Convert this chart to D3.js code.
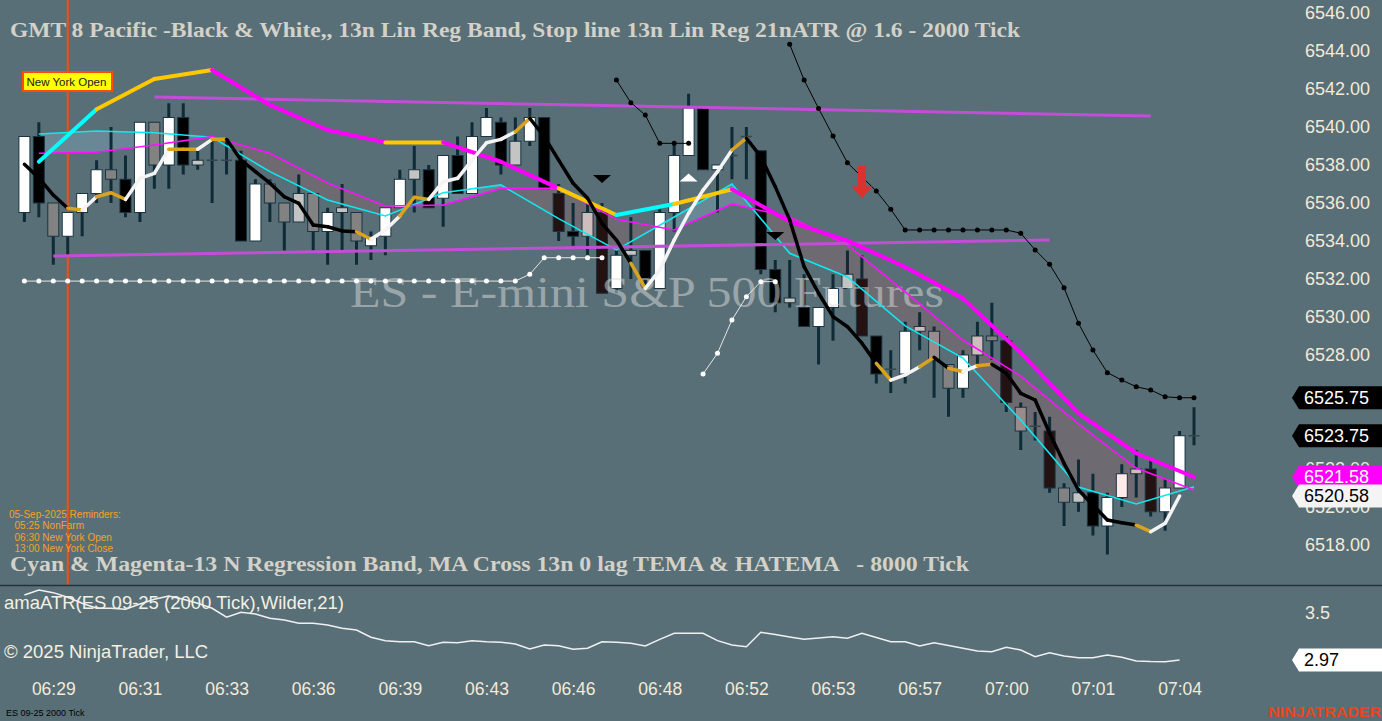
<!DOCTYPE html>
<html>
<head>
<meta charset="utf-8">
<title>ES 09-25 2000 Tick</title>
<script src="https://cdn.jsdelivr.net/npm/d3@7"></script>
<style>
  body { margin: 0; background: #586f77; overflow: hidden; }
  text { font-family: "Liberation Sans", Arial, sans-serif; }
</style>
</head>
<body>
<script>
// ---- data (2000 tick bars, index 0..81) ----
var opens  = [6535.5,6539.5,6536,6534.25,6535.5,6536.5,6537.75,6537.25,6535.5,6540.25,
              6538,6540.5,6538.25,6538.25,6538.25,6538.25,6534,6537,6536,6535,
              6536.5,6534.5,6535.75,6535.5,6533.75,6534.25,6535.75,6537.25,6537.75,6536.25,
              6538.5,6536.5,6539.5,6540.25,6538,6539.25,6540.5,6536.5,6534.5,6534.25,
              6535.5,6531.5,6533.5,6533.5,6531.5,6535.5,6538.5,6541,6537.75,6538.5,
              6539.5,6538.75,6532.5,6531,6530.5,6529.5,6530.5,6531.5,6532,6529,
              6527.25,6527,6529.25,6529.25,6527.5,6526.25,6528,6529,6528.75,6525.25,
              6524.25,6524,6521,6520.25,6520.75,6519,6520.5,6521.75,6522,6519.75,
              6521,6523.75];
var highs  = [6539.5,6540.25,6536,6535.5,6536.5,6538.25,6540,6538.5,6540.25,6540.25,
              6541.25,6541.25,6538.75,6539.25,6539.25,6538.75,6537.25,6537.25,6536,6537.5,
              6536.5,6535.75,6537,6535.5,6534.5,6535.75,6537.75,6539,6538,6538.5,
              6539.5,6540.25,6541,6540.5,6540.5,6541,6540.5,6537,6536,6536,
              6536,6533.5,6535.25,6533.5,6535.75,6539.25,6541.75,6541,6538,6540,
              6540,6538.75,6533,6533,6532.25,6530.5,6532.25,6533.5,6533.25,6529,
              6528.25,6529.75,6530.25,6529.5,6527.5,6528.25,6529.75,6530.75,6529,6525.5,
              6525,6524.75,6521.25,6522.5,6521.75,6520.75,6522.25,6523,6522.5,6521.5,
              6524,6525.25];
var lows   = [6535,6535.25,6532.75,6533.25,6534.25,6536,6536,6535.25,6535,6536.75,
              6536.75,6537.5,6537.75,6536,6537.5,6534,6534,6535,6533.5,6535,
              6533.5,6532.75,6533.5,6532.75,6533,6533.25,6535.75,6535.5,6535.75,6534.75,
              6536.5,6536.5,6539.5,6537.5,6538,6539,6536.75,6534,6533.75,6533.25,
              6531.25,6531.25,6532,6531.5,6531.5,6534.5,6538.5,6537.75,6535.5,6537.25,
              6537.25,6532.25,6530.25,6530.5,6529.5,6527.5,6528.75,6531.5,6529,6526.5,
              6526,6526.5,6528.25,6525.75,6524.75,6525.75,6527.5,6527.75,6525,6523,
              6523.5,6520.75,6519,6519.75,6518.5,6517.5,6520,6520.5,6519.5,6518.75,
              6521,6523.25];
var closes = [6539.5,6536,6534.25,6535.5,6536.5,6537.75,6537.25,6535.5,6540.25,6538,
              6540.5,6538,6538,6538.25,6538.25,6534,6537,6536,6535,6536.5,
              6534.5,6535.5,6535.5,6534,6534.25,6535.75,6537.25,6537.75,6535.75,6538.5,
              6536.5,6539.5,6540.5,6538,6539.25,6540.5,6536.75,6534.5,6534.25,6535.5,
              6531.25,6533.25,6533.25,6532,6535.5,6538.5,6541,6537.75,6538,6538.5,
              6539.5,6532.5,6530.75,6530.75,6529.5,6530.5,6531.5,6532.25,6529,6527,
              6527.25,6529.25,6529.5,6527.75,6526.25,6528,6529,6528.75,6525.5,6524,
              6524.25,6521,6520.25,6520.75,6519,6520.5,6521.75,6522,6519.75,6521,
              6523.75,6523.75];
// bar colouring state from the painter indicator
var barState = ["up","down","weak","up","up","up","weak","down","up","weak",
                "up","down","light","flat","flat","down","up","weak","weak","light",
                "weak","up","light","weak","up","up","up","light","down","up",
                "down","up","up","down","light","up","down","ember","down","rose",
                "ember","up","light","down","up","up","up","down","up","flat",
                "flat","down","down","light","down","up","up","light","ember","down",
                "flat","up","rose","dusk","weak","up","rose","weak","ember","dusk",
                "flat","ember","weak","light","down","up","blush","rose","ember","up",
                "up","flat"];

// 13n 0 lag TEMA (bars 0..80) and its slope state
var tema = [6538.04,6537.32,6536.42,6535.72,6535.63,6536.33,6536.54,6536.19,6537.30,6537.56,
            6538.83,6538.83,6538.83,6539.35,6539.35,6538.26,6537.65,6537.04,6536.33,6535.98,
            6534.84,6534.75,6534.53,6534.49,6534.09,6534.58,6535.32,6536.30,6536.19,6537.12,
            6537.30,6538.26,6539.17,6539.35,6539.75,6540.46,6539.49,6538.26,6537.04,6536.25,
            6534.93,6534.05,6532.83,6531.51,6532.47,6534.05,6535.46,6536.68,6537.65,6538.79,
            6539.41,6538.44,6536.86,6535.11,6532.65,6531.25,6530.02,6529.49,6528.62,6527.56,
            6526.68,6526.95,6527.38,6527.88,6527.30,6527.12,6527.44,6527.51,6527.04,6525.98,
            6525.63,6523.88,6522.30,6520.89,6520.11,6519.32,6519.17,6519.05,6518.70,6519.14,
            6520.58];
var temaState = ("ddddfuffuu" + "uffufddddd" + "ddddfuuffu" + "uuuuufdddd" +
                 "dddfuuuuuu" + "fddddddddd" + "fuufdfufdd" + "ddddddddfuu").split("");

// 8000 tick series, one value every 4th 2000 tick bar
var htfBars = [1,5,9,13,17,21,25,29,33,37,41,45,49,53,57,61,65,69,73,77,81];
var htfMA = [6538.17,6540.93,6542.53,6543.00,6541.16,6539.84,6539.19,6539.19,6538.17,6536.77,
             6535.37,6535.95,6536.72,6535.02,6534.02,6532.63,6530.98,6528.11,6524.93,6522.83,
             6521.58];
var htfState = ["u","u","f","f","d","d","d","f","d","d","f","u","f","d","d","d","d","d","d","d","d"];
var bandCyan = [6539.63,6539.79,6539.70,6539.46,6537.65,6536.16,6535.32,6536.54,6536.95,6535.18,
                6533.53,6535.26,6537.00,6533.35,6532.11,6529.53,6527.84,6524.58,6521.05,6520.16,
                6521.07];
var bandMagenta = [6538.62,6538.67,6539.05,6539.49,6538.62,6537.05,6535.84,6535.89,6536.77,6536.77,
                   6535.14,6534.58,6535.95,6535.26,6533.79,6531.32,6528.79,6526.89,6524.37,6522.05,
                   6520.89];

// ATR based stop line, L = long (below price), S = short (above price)
var stopLine = [6531.89,6531.89,6531.89,6531.89,6531.89,6531.89,6531.89,6531.89,6531.89,6531.89,
                6531.89,6531.89,6531.89,6531.89,6531.89,6531.89,6531.89,6531.89,6531.89,6531.89,
                6531.89,6531.89,6531.89,6531.89,6531.89,6531.89,6531.89,6531.89,6531.89,6531.89,
                6531.89,6531.89,6531.89,6531.89,6531.89,6532.25,6533.12,6533.12,6533.12,6533.12,
                6533.12,6542.47,6541.28,6540.63,6539.14,6539.14,6539.14,6527.00,6528.09,6529.84,
                6531.07,6531.86,6531.86,6544.35,6542.47,6540.98,6539.53,6538.12,6537.37,6536.63,
                6535.67,6534.58,6534.58,6534.58,6534.58,6534.58,6534.58,6534.58,6534.58,6534.41,
                6533.53,6532.77,6531.54,6529.67,6528.26,6527.07,6526.68,6526.33,6526.16,6525.80,
                6525.75,6525.75];
var stopSide = ("LLLLLLLLLLLLLLLLLLLLLLLLLLLLLLLLLLLLLLLLL" + "SSSSSS" + "LLLLLL" +
                "SSSSSSSSSSSSSSSSSSSSSSSSSSSSS").split("");

// amaATR(Wilder,21), bars 0..80
var atr = [3.703,3.759,3.729,3.677,3.609,3.553,3.553,3.542,3.601,3.654,
           3.692,3.654,3.609,3.553,3.452,3.508,3.489,3.440,3.421,3.384,
           3.384,3.365,3.327,3.308,3.226,3.188,3.176,3.176,3.131,3.170,
           3.165,3.188,3.176,3.170,3.150,3.094,3.139,3.131,3.091,3.102,
           3.176,3.170,3.158,3.128,3.203,3.271,3.271,3.271,3.188,3.139,
           3.120,3.282,3.258,3.229,3.203,3.218,3.233,3.215,3.271,3.224,
           3.176,3.176,3.128,3.165,3.134,3.102,3.071,3.064,3.113,3.083,
           3.007,3.052,3.015,2.996,2.996,3.026,3.000,2.959,2.953,2.951,
           2.970];

// hand drawn regression channel lines (bar, price)
var channelLines = [
  {b0: 9, p0: 6541.58, b1: 78, p1: 6540.58},
  {b0: 2, p0: 6533.21, b1: 71, p1: 6534.05}
];
var signals = [
  {bar: 40, price: 6537.26, kind: "sell"},
  {bar: 46, price: 6537.34, kind: "buy"},
  {bar: 52, price: 6534.26, kind: "sell"},
  {bar: 58, price: 6537.10, kind: "arrow"}
];
var nyOpenBar = 3;

var priceTicks = [6518,6520,6522,6524,6526,6528,6530,6532,6534,6536,6538,6540,6542,6544,6546];
var timeBars = [2,8,14,20,26,32,38,44,50,56,62,68,74,80];
var timeLabels = ["06:29","06:31","06:33","06:36","06:39","06:43","06:46","06:48",
                  "06:52","06:53","06:57","07:00","07:01","07:04"];
var atrTicks = [3.5];
var reminders = ["05-Sep-2025 Reminders:", "  05:25 NonFarm", "  06:30 New York Open", "  13:00 New York Close"];

// ---- layout ----
var width = 1382, height = 721;
var priceBottom = 585, plotRight = 1290;

var x = d3.scaleLinear().domain([0, 81]).range([24.4, 1194]);
var y = d3.scaleLinear().domain([6515.895, 6546.684]).range([priceBottom, 0]);
var atrY = d3.scaleLinear().domain([2.767, 3.804]).range([678, 586]);

var svg = d3.select("body").append("svg")
    .attr("width", width)
    .attr("height", height);

svg.append("rect").attr("width", width).attr("height", height).attr("fill", "#586f77");

var defs = svg.append("defs");
defs.append("clipPath").attr("id", "priceClip")
  .append("rect").attr("x", 0).attr("y", 0).attr("width", plotRight).attr("height", priceBottom);

var plot = svg.append("g").attr("clip-path", "url(#priceClip)");

// New York open marker line
plot.append("line")
    .attr("x1", x(nyOpenBar)).attr("x2", x(nyOpenBar))
    .attr("y1", 0).attr("y2", priceBottom)
    .attr("stroke", "#ff4a0a").attr("stroke-width", 2);

// regression band fill, blue where cyan is on top, grey where magenta is on top
var band = htfBars.map(function(b, i) { return {b: b, c: bandCyan[i], m: bandMagenta[i]}; });
defs.append("clipPath").attr("id", "cyanAbove").append("path")
    .attr("d", d3.area().x(function(d){return x(d.b);}).y0(0).y1(function(d){return y(d.m);})(band));
defs.append("clipPath").attr("id", "cyanBelow").append("path")
    .attr("d", d3.area().x(function(d){return x(d.b);}).y0(function(d){return y(d.m);}).y1(priceBottom)(band));
var bandArea = d3.area()
    .x(function(d){return x(d.b);})
    .y0(function(d){return y(d.c);})
    .y1(function(d){return y(d.m);});
plot.append("path").attr("d", bandArea(band)).attr("fill", "#6a8795").attr("clip-path", "url(#cyanAbove)");
plot.append("path").attr("d", bandArea(band)).attr("fill", "#6e6a71").attr("clip-path", "url(#cyanBelow)");

// candles
var shade = d3.scaleOrdinal()
    .domain(["up","down","weak","light","rose","dusk","blush","ember","flat"])
    .range(["#ffffff","#000000","#828282","#c4c4c4","#cfbcbc","#9c8b8d","#ffe9e9","#241212","#34474f"]);

var bars = d3.range(opens.length);
var candle = plot.selectAll("g.bar").data(bars).join("g").attr("class", "bar");
candle.append("line")
    .attr("x1", function(i){return x(i);}).attr("x2", function(i){return x(i);})
    .attr("y1", function(i){return y(highs[i]);}).attr("y2", function(i){return y(lows[i]);})
    .attr("stroke", "#0e2b37").attr("stroke-width", 3);
candle.filter(function(i){return opens[i] !== closes[i];}).append("rect")
    .attr("x", function(i){return x(i) - 5.5;})
    .attr("width", 11)
    .attr("y", function(i){return y(Math.max(opens[i], closes[i]));})
    .attr("height", function(i){return Math.abs(y(opens[i]) - y(closes[i]));})
    .attr("fill", function(i){return shade(barState[i]);})
    .attr("stroke", "#1a3440").attr("stroke-width", 1);
candle.filter(function(i){return opens[i] === closes[i];}).append("line")
    .attr("x1", function(i){return x(i) - 5.5;}).attr("x2", function(i){return x(i) + 5.5;})
    .attr("y1", function(i){return y(opens[i]);}).attr("y2", function(i){return y(opens[i]);})
    .attr("stroke", shade("flat")).attr("stroke-width", 1.5);

// watermark
plot.append("text")
    .attr("x", 350).attr("y", 307)
    .attr("textLength", 594).attr("lengthAdjust", "spacingAndGlyphs")
    .style("font-family", "'Liberation Serif', 'Times New Roman', serif")
    .style("font-size", "45px")
    .attr("fill", "#dcdcdc").attr("fill-opacity", 0.5)
    .text("ES - E-mini S&P 500 Futures");

// thin regression band lines
var nodeLine = d3.line().x(function(d){return x(d[0]);}).y(function(d){return y(d[1]);});
plot.append("path").attr("d", nodeLine(htfBars.map(function(b,i){return [b, bandCyan[i]];})))
    .attr("fill", "none").attr("stroke", "#10e8f0").attr("stroke-width", 1.6);
plot.append("path").attr("d", nodeLine(htfBars.map(function(b,i){return [b, bandMagenta[i]];})))
    .attr("fill", "none").attr("stroke", "#ff10ff").attr("stroke-width", 1.6);

// purple channel lines
plot.selectAll("line.channel").data(channelLines).join("line").attr("class", "channel")
    .attr("x1", function(d){return x(d.b0);}).attr("y1", function(d){return y(d.p0);})
    .attr("x2", function(d){return x(d.b1);}).attr("y2", function(d){return y(d.p1);})
    .attr("stroke", "#c24ed6").attr("stroke-width", 3);

// stop line: thin joins inside a run, then the dots
var stopPairs = d3.pairs(bars).filter(function(p){return stopSide[p[0]] === stopSide[p[1]];});
plot.selectAll("line.stopjoin").data(stopPairs).join("line").attr("class", "stopjoin")
    .attr("x1", function(p){return x(p[0]);}).attr("y1", function(p){return y(stopLine[p[0]]);})
    .attr("x2", function(p){return x(p[1]);}).attr("y2", function(p){return y(stopLine[p[1]]);})
    .attr("stroke", function(p){return stopSide[p[0]] === "L" ? "#e6e6e6" : "#000";})
    .attr("stroke-width", 1);
plot.selectAll("circle.stop").data(bars).join("circle").attr("class", "stop")
    .attr("cx", function(i){return x(i);}).attr("cy", function(i){return y(stopLine[i]);})
    .attr("r", 2.5)
    .attr("fill", function(i){return stopSide[i] === "L" ? "#ffffff" : "#000000";});

// 8000 tick MA cross line, coloured per segment
var htfColor = {u: "#00ffff", f: "#ffc800", d: "#ff00ff"};
var htfSegs = d3.pairs(htfBars.map(function(b,i){return [b, htfMA[i]];}))
    .map(function(p, k){return {pts: p, state: htfState[k + 1]};});
plot.selectAll("path.htf").data(htfSegs).join("path").attr("class", "htf")
    .attr("d", function(s){return nodeLine(s.pts);})
    .attr("fill", "none").attr("stroke", function(s){return htfColor[s.state];})
    .attr("stroke-width", 4).attr("stroke-linecap", "round");

// TEMA line
var temaColor = {d: "#000000", u: "#f4f4f4", f: "#d9a21f"};
var temaSegs = d3.pairs(tema.map(function(v,i){return [i, v];}))
    .map(function(p, k){return {pts: p, state: temaState[k + 1]};});
plot.selectAll("path.tema").data(temaSegs).join("path").attr("class", "tema")
    .attr("d", function(s){return nodeLine(s.pts);})
    .attr("fill", "none").attr("stroke", function(s){return temaColor[s.state];})
    .attr("stroke-width", 3.5).attr("stroke-linecap", "round");

// signal markers
plot.selectAll("path.signal").data(signals).join("path").attr("class", "signal")
    .attr("d", function(s){
      var cx = x(s.bar), cy = y(s.price);
      if (s.kind === "sell") return "M" + (cx-9) + "," + (cy-4) + "L" + (cx+9) + "," + (cy-4) + "L" + cx + "," + (cy+4) + "Z";
      if (s.kind === "buy") return "M" + (cx-9) + "," + (cy+4) + "L" + (cx+9) + "," + (cy+4) + "L" + cx + "," + (cy-4) + "Z";
      return "M" + (cx-4) + "," + (cy-16) + "H" + (cx+4) + "V" + (cy+4.5) + "H" + (cx+10.5) +
             "L" + cx + "," + (cy+16) + "L" + (cx-10.5) + "," + (cy+4.5) + "H" + (cx-4) + "Z";
    })
    .attr("fill", function(s){return s.kind === "buy" ? "#ffffff" : (s.kind === "arrow" ? "#e0302c" : "#000000");});

// chart texts
var serif = "'Liberation Serif', 'Times New Roman', serif";
svg.append("text").attr("x", 10).attr("y", 37)
    .attr("textLength", 1010).attr("lengthAdjust", "spacingAndGlyphs")
    .style("font-family", serif).style("font-size", "21px").style("font-weight", "bold")
    .attr("fill", "#d3d1c8")
    .text("GMT 8 Pacific -Black & White,, 13n Lin Reg Band, Stop line 13n Lin Reg 21nATR @ 1.6 - 2000 Tick");
svg.append("text").attr("x", 10).attr("y", 571)
    .attr("textLength", 959).attr("lengthAdjust", "spacingAndGlyphs")
    .style("font-family", serif).style("font-size", "21px").style("font-weight", "bold")
    .style("white-space", "pre")
    .attr("fill", "#d3d1c8")
    .text("Cyan & Magenta-13 N Regression Band, MA Cross 13n 0 lag TEMA & HATEMA   - 8000 Tick");

svg.selectAll("text.reminder").data(reminders).join("text").attr("class", "reminder")
    .attr("x", 9).attr("y", function(d, i){return 518 + i * 11.3;})
    .style("font-size", "10px").style("white-space", "pre")
    .attr("fill", "#f5a21e")
    .text(function(d){return d;});

// New York Open tag
svg.append("rect").attr("x", 23).attr("y", 72).attr("width", 89).attr("height", 19)
    .attr("fill", "#ffff00").attr("stroke", "#ff4a0a").attr("stroke-width", 2);
svg.append("text").attr("x", 26.5).attr("y", 86)
    .style("font-size", "11.5px").attr("fill", "#1a1a1a").text("New York Open");

// panel separator
svg.append("line").attr("x1", 0).attr("x2", width).attr("y1", 585.5).attr("y2", 585.5)
    .attr("stroke", "#22333a").attr("stroke-width", 1.5);

// value tags on the right axis
var fmt2 = d3.format(".2f");
var tags = [
  {v: stopLine[stopLine.length - 1], fill: "#000000", ink: "#ffffff"},
  {v: closes[closes.length - 1],     fill: "#000000", ink: "#ffffff"},
  {v: htfMA[htfMA.length - 1],       fill: "#ff00ff", ink: "#ffffff"},
  {v: tema[tema.length - 1],         fill: "#f4f4f4", ink: "#000000"}
];

// price axis, leaving out tick labels a tag hides completely
var cream = "#f3ead8";
var shownTicks = priceTicks.filter(function(t){
  return !tags.some(function(g){ return Math.abs(y(g.v) - y(t)) < 6; });
});
svg.append("g").attr("transform", "translate(1305,0)")
    .call(d3.axisRight(y).tickValues(shownTicks).tickFormat(fmt2).tickSize(0).tickPadding(0))
    .call(function(g){ g.select(".domain").remove(); })
    .attr("font-size", 18).attr("font-family", "'Liberation Sans', Arial, sans-serif")
    .style("color", cream);

function tag(yv, label, fill, ink) {
  var g = svg.append("g");
  g.append("path")
    .attr("d", "M1292," + yv + "L1299," + (yv - 11.5) + "H1382V" + (yv + 11.5) + "H1299Z")
    .attr("fill", fill);
  g.append("text").attr("x", 1304).attr("y", yv).attr("dy", "0.35em")
    .style("font-size", "18px").attr("fill", ink).text(label);
}
tags.forEach(function(g){ tag(y(g.v), fmt2(g.v), g.fill, g.ink); });

// ATR panel
var atrLine = d3.line().x(function(d, i){return x(i);}).y(function(d){return atrY(d);});
svg.append("path").attr("d", atrLine(atr))
    .attr("fill", "none").attr("stroke", "#f0f0f0").attr("stroke-width", 1.5);
svg.append("text").attr("x", 4).attr("y", 609)
    .style("font-size", "18.5px").attr("fill", "#f4efe4")
    .text("amaATR(ES 09-25 (2000 Tick),Wilder,21)");
svg.append("text").attr("x", 4).attr("y", 658)
    .style("font-size", "18.5px").attr("fill", "#f4efe4")
    .text("\u00a9 2025 NinjaTrader, LLC");
svg.append("g").attr("transform", "translate(1305,0)")
    .call(d3.axisRight(atrY).tickValues(atrTicks).tickFormat(d3.format(".1f")).tickSize(0).tickPadding(0))
    .call(function(g){ g.select(".domain").remove(); })
    .attr("font-size", 18).attr("font-family", "'Liberation Sans', Arial, sans-serif")
    .style("color", cream);
tag(atrY(atr[atr.length - 1]), fmt2(atr[atr.length - 1]), "#ffffff", "#000000");

// time axis
svg.append("g").attr("transform", "translate(0,683)")
    .call(d3.axisBottom(x).tickValues(timeBars).tickFormat(function(d, i){return timeLabels[i];}).tickSize(0).tickPadding(0))
    .call(function(g){ g.select(".domain").remove(); })
    .attr("font-size", 17.5).attr("font-family", "'Liberation Sans', Arial, sans-serif")
    .style("color", cream);

// footer
svg.append("text").attr("x", 6).attr("y", 716)
    .style("font-size", "9px").attr("fill", "#000000").text("ES 09-25 2000 Tick");
svg.append("text").attr("x", 1268).attr("y", 717)
    .attr("textLength", 113).attr("lengthAdjust", "spacingAndGlyphs")
    .style("font-size", "15px").style("font-weight", "bold").attr("fill", "#ea4420")
    .text("NINJATRADER");
</script>
</body>
</html>
